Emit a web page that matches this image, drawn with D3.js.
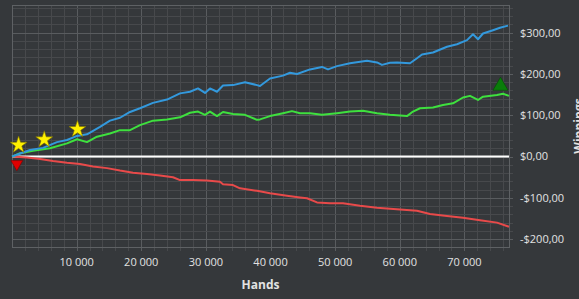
<!DOCTYPE html>
<html lang="en">
  <head>
    <meta charset="UTF-8"/>
    <title>Winnings</title>
    <script src="https://d3js.org/d3.v7.min.js"></script>
    <style>
      body { margin: 0; background: #35383b; }
      text { font-family: 'Open Sans', sans-serif; fill: #e2e2e2; }
      .axis-label { font-size: 12px; font-weight: bold; }
      .tick-label { font-size: 11px; }
    </style>
  </head>
  <body>
    <script type="text/javascript">

      // hands / winnings
      const blue = [[0,0],[2785,16],[4797,21],[6963,35],[8510,40],[10057,50],[11604,54],[13616,72],[15163,87],
        [16710,94],[18258,108],[19805,117],[21816,130],[23983,138],[25994,153],[27541,157],[28779,165],[29862,154],
        [30636,165],[31719,157],[32647,172],[34195,173],[36051,180],[37908,173],[38372,171],[39920,189],[41931,196],
        [43014,203],[44097,200],[46109,211],[47966,217],[48894,211],[50286,219],[52298,226],[54928,232],[56475,228],
        [57249,222],[58487,227],[59570,228],[61582,226],[62665,238],[63439,247],[65141,252],[67306,266],[68854,272],
        [70401,282],[71329,296],[72103,284],[72876,298],[74424,306],[75507,312],[76745,317]]

      const green = [[0,0],[1238,8],[3249,14],[5880,20],[8510,32],[10057,42],[11604,35],[13152,48],[15163,56],
        [16710,64],[18258,64],[19805,76],[21816,87],[23983,90],[25994,95],[27541,106],[28779,109],[29862,101],
        [30636,109],[31719,98],[32647,108],[34195,103],[36051,101],[37908,89],[38372,90],[39920,98],[41931,105],
        [43324,110],[44561,105],[46109,105],[47966,101],[50286,105],[52298,109],[54309,111],[56475,105],[58487,101],
        [61117,98],[62046,109],[63129,117],[65141,119],[66688,125],[68235,129],[69782,143],[70866,147],[72103,137],
        [72876,145],[75042,149],[75971,152],[76900,147]]

      const red = [[0,0],[2321,-2],[4332,-6],[6344,-11],[8510,-15],[10521,-18],[12533,-24],[14699,-28],[16710,-34],
        [18722,-39],[20888,-42],[22899,-46],[24911,-50],[25994,-57],[28006,-57],[30172,-58],[32183,-61],[32647,-67],
        [34195,-69],[35278,-77],[37908,-83],[39920,-89],[42550,-95],[44561,-99],[45645,-101],[47192,-111],[49203,-113],
        [51215,-113],[53845,-119],[56475,-124],[60035,-128],[62665,-131],[64676,-139],[67306,-144],[69782,-148],
        [72413,-154],[75042,-160],[76900,-170]]

      const stars = [[1019,28],[4990,41],[10130,66]]
      const downMarks = [[750,-18]]
      const upMarks = [[75585,171]]

      const xTicks = [10000,20000,30000,40000,50000,60000,70000]
      const yTicks = [-200,-100,0,100,200,300]

      const outerWidth = 579, outerHeight = 299
      const plot = {left: 12, top: 5, right: 509, bottom: 247}

      const svg = d3.select("body").append("svg")
          .attr("width", outerWidth)
          .attr("height", outerHeight)

      const x = d3.scaleLinear().domain([0, 76900]).range([plot.left, plot.right])
      const y = d3.scaleLinear().domain([-219, 367]).range([plot.bottom, plot.top])

      const fmtHands = d => d3.format(",")(d).replace(/,/g, " ")
      const fmtMoney = d => (d < 0 ? "-" : "") + "$" + Math.abs(d) + ",00"

      // minor grid every 2000 hands / $20
      const grid = svg.append("g")
      grid.selectAll(".vx").data(d3.range(2000, 76900, 2000)).join("line")
          .attr("x1", d => Math.round(x(d)) + 0.5).attr("x2", d => Math.round(x(d)) + 0.5)
          .attr("y1", plot.top).attr("y2", plot.bottom + 4)
          .attr("stroke", d => d % 10000 === 0 ? "#595c5f" : "#47494c")
      grid.selectAll(".hy").data(d3.range(-200, 367, 20)).join("line")
          .attr("y1", d => Math.round(y(d)) + 0.5).attr("y2", d => Math.round(y(d)) + 0.5)
          .attr("x1", plot.left).attr("x2", plot.right + 4)
          .attr("stroke", d => d % 100 === 0 ? "#595c5f" : "#47494c")

      svg.append("rect")
          .attr("x", plot.left + 0.5).attr("y", plot.top + 0.5)
          .attr("width", plot.right - plot.left).attr("height", plot.bottom - plot.top)
          .attr("fill", "none").attr("stroke", "#5e6164")

      // axes labels
      svg.append("g").selectAll("text").data(xTicks).join("text")
          .attr("class", "tick-label")
          .attr("x", d => x(d)).attr("y", 266)
          .attr("text-anchor", "middle")
          .text(fmtHands)

      svg.append("g").selectAll("text").data(yTicks).join("text")
          .attr("class", "tick-label")
          .attr("x", 520).attr("y", d => y(d))
          .attr("dy", "0.35em")
          .text(fmtMoney)

      svg.append("text")
          .attr("class", "axis-label")
          .attr("x", (plot.left + plot.right) / 2).attr("y", 289)
          .attr("text-anchor", "middle")
          .text("Hands")

      svg.append("text")
          .attr("class", "axis-label")
          .attr("transform", `translate(583,${(plot.top + plot.bottom) / 2}) rotate(-90)`)
          .attr("text-anchor", "middle")
          .text("Winnings")

      // zero line
      svg.append("line")
          .attr("x1", plot.left).attr("x2", plot.right)
          .attr("y1", y(0)).attr("y2", y(0))
          .attr("stroke", "#ffffff").attr("stroke-width", 2)

      const line = d3.line().x(d => x(d[0])).y(d => y(d[1]))

      const series = [
        {data: red, color: "#e84a4a"},
        {data: green, color: "#3ee03e"},
        {data: blue, color: "#3399dd"}
      ]
      svg.append("g").selectAll("path").data(series).join("path")
          .attr("d", d => line(d.data))
          .attr("fill", "none")
          .attr("stroke", d => d.color)
          .attr("stroke-width", 2)
          .attr("stroke-linejoin", "round")

      // markers
      svg.append("g").selectAll("path").data(stars).join("path")
          .attr("transform", d => `translate(${x(d[0])},${y(d[1])})`)
          .attr("d", d3.symbol(d3.symbolStar, 90))
          .attr("fill", "#fff000").attr("stroke", "#7a6f00").attr("stroke-width", 0.6)

      svg.append("g").selectAll("path").data(downMarks).join("path")
          .attr("transform", d => `translate(${x(d[0])},${y(d[1])}) rotate(180)`)
          .attr("d", d3.symbol(d3.symbolTriangle, 60))
          .attr("fill", "#e00000").attr("stroke", "#800000").attr("stroke-width", 0.6)

      svg.append("g").selectAll("path").data(upMarks).join("path")
          .attr("transform", d => `translate(${x(d[0])},${y(d[1])})`)
          .attr("d", d3.symbol(d3.symbolTriangle, 100))
          .attr("fill", "#0a7d0a").attr("stroke", "#044a04").attr("stroke-width", 0.6)

    </script>
  </body>
</html>
